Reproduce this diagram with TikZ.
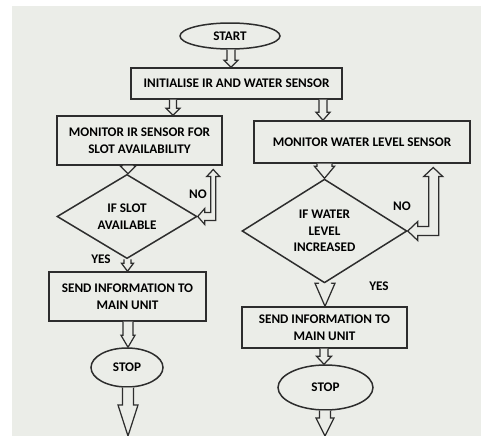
\documentclass[tikz,border=0pt]{standalone}
\usepackage{fontspec}
\setmainfont{Carlito}
\usepackage{tikz}
\usetikzlibrary{shapes,calc}
\definecolor{back_grey}{RGB}{235,237,232}
\definecolor{edge_dark}{RGB}{45,45,45}
\newcommand\hollowdn[5]{%
  \draw[hollow] ($(#1)+(-#3,0)$) -- ($(#2)+(-#3,-#5)$) -- ($(#2)+(-#4,-#5)$) -- (#2)
    -- ($(#2)+(#4,-#5)$) -- ($(#2)+(#3,-#5)$) -- ($(#1)+(#3,0)$);}

\begin{document}
\begin{tikzpicture}[x=0.02cm,y=-0.02cm,semithick]
    \tikzstyle{box}=[draw=edge_dark, line width=0.85pt, inner sep=0pt, align=center, text=black,
                     font=\fontsize{7.5}{9.5}\selectfont\bfseries]
    \tikzstyle{terminal}=[style=box, ellipse]
    \tikzstyle{process}=[style=box, rectangle]
    \tikzstyle{decision}=[style=box, diamond]
    \tikzstyle{note}=[text=black, font=\fontsize{7.5}{9.5}\selectfont\bfseries]
    \tikzstyle{hollow}=[draw=edge_dark, line width=0.7pt, fill=back_grey, line join=miter]

    \useasboundingbox (0,0) rectangle (481,436);
    \fill[white] (0,0) rectangle (481,436);
    \fill[back_grey] (12,6) rectangle (481,436);

    \node[terminal, minimum width=2cm,    minimum height=0.52cm] (start)  at (230,36)      {START};
    \node[process,  minimum width=4.22cm, minimum height=0.62cm] (init)   at (236.5,83.5)  {INITIALISE IR AND WATER SENSOR};
    \node[process,  minimum width=3.3cm,  minimum height=0.98cm] (monir)  at (139.5,140.5) {MONITOR IR SENSOR FOR\\SLOT AVAILABILITY};
    \node[process,  minimum width=4.32cm, minimum height=0.84cm] (monwl)  at (362,142)     {MONITOR WATER LEVEL SENSOR};
    \node[decision, minimum width=2.8cm,  minimum height=1.26cm] (dslot)  at (127,216.5)   {IF SLOT\\AVAILABLE};
    \node[decision, minimum width=3.3cm,  minimum height=1.44cm] (dwater) at (324.5,231)   {IF WATER\\LEVEL\\INCREASED};
    \node[process,  minimum width=3.14cm, minimum height=0.98cm] (sendl)  at (127.5,296.5) {SEND INFORMATION TO\\MAIN UNIT};
    \node[process,  minimum width=3.3cm,  minimum height=0.82cm] (sendr)  at (324.5,327.5) {SEND INFORMATION TO\\MAIN UNIT};
    \node[terminal, minimum width=1.44cm, minimum height=0.78cm] (stopl)  at (127,367.5)   {STOP};
    \node[terminal, minimum width=1.9cm,  minimum height=0.9cm]  (stopr)  at (325.5,387.5) {STOP};

    \node[note] (nol)  at (198,194) {NO};
    \node[note] (yesl) at (101,259) {YES};
    \node[note] (nor)  at (402,206) {NO};
    \node[note] (yesr) at (379,286) {YES};

    \coordinate (endl) at (128,436);
    \coordinate (endr) at (325,436);

    \hollowdn{231,0 |- start.south}{231,0 |- init.north}{4}{7}{7}
    \hollowdn{173,0 |- init.south}{173,0 |- monir.north}{3.5}{7}{7}
    \hollowdn{323,0 |- init.south}{323,0 |- monwl.north}{4}{7}{8}
    \hollowdn{128,0 |- monir.south}{128,0 |- dslot.north}{5.5}{8}{8}
    \hollowdn{127.5,0 |- dslot.south}{127.5,0 |- sendl.north}{3.5}{6}{8}
    \hollowdn{128,0 |- sendl.south}{128,0 |- stopl.north}{5}{7}{12}
    \hollowdn{128,0 |- stopl.south}{endl}{5.5}{10}{31}
    \hollowdn{324.5,0 |- monwl.south}{324.5,0 |- dwater.north}{7.5}{10}{12}
    \hollowdn{325,0 |- dwater.south}{325,0 |- sendr.north}{6.5}{10}{23}
    \hollowdn{324,0 |- sendr.south}{324,0 |- stopr.north}{4}{7.5}{8}
    \hollowdn{325,0 |- stopr.south}{endr}{5.5}{9}{18}

    \draw[hollow] (dslot.east) -- ++(7,-8) -- ++(0,4) -- ++(6,0) -- ++(0,-36) -- ++(-4,0) -- ++(6.5,-7)
      -- ++(6.5,7) -- ++(-4,0) -- ++(0,44) -- ++(-11,0) -- ++(0,4) -- cycle;
    \draw[hollow] (dwater.east) -- ++(10,-9.5) -- ++(0,5) -- ++(11,0) -- ++(0,-50) -- ++(-5,0) -- ++(9.5,-9)
      -- ++(9.5,9) -- ++(-4,0) -- ++(0,59) -- ++(-21,0) -- ++(0,5) -- cycle;
  \end{tikzpicture}
\end{document}
